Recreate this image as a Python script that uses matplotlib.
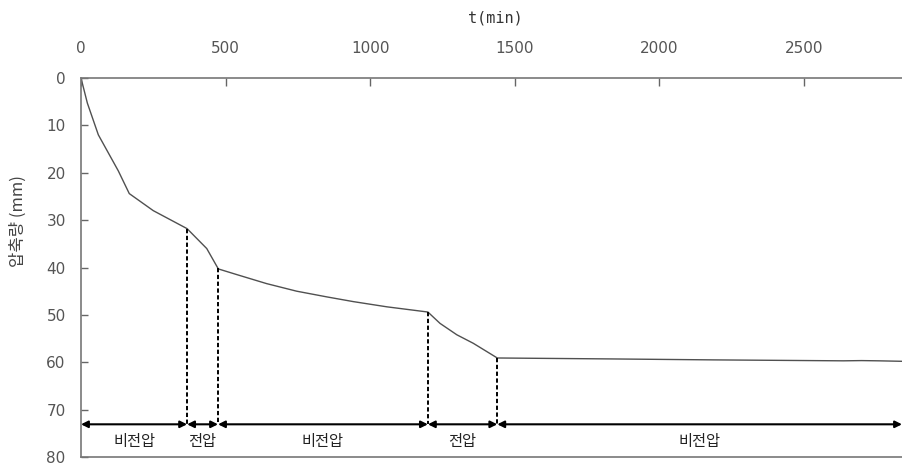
import numpy as np
import matplotlib
matplotlib.use('Agg')
import matplotlib.pyplot as plt

# --- データ ---
t_min = [0, 22, 60, 129, 167, 250, 367, 435, 475, 539, 642, 746, 850, 942, 1058, 1200,
         1242, 1300, 1357, 1440, 1835, 2187, 2637, 2700, 2760, 2840]
settle = [0, 5.3, 12.0, 19.6, 24.4, 28.0, 31.8, 36.0, 40.3, 41.5, 43.4, 45.0, 46.2, 47.2, 48.3, 49.4,
          51.8, 54.2, 56.0, 59.1, 59.3, 59.5, 59.7, 59.65, 59.7, 59.8]

# 区間の境界（分）とラベル
bounds = [0, 367, 474, 1200, 1440, 2840]
seg_labels = ['비전압', '전압', '비전압', '전압', '비전압']
arrow_y = 73.1
label_y = 76.7

fig = plt.figure(figsize=(9.02, 4.65), dpi=100)
ax = fig.add_axes([81/902, 1 - 457/465, 1 - 81/902, (457 - 78)/465])

ax.plot(t_min, settle, color='#505050', lw=1.0)

# 境界の点線（曲線から矢印まで）
for b in bounds[1:-1]:
    yb = np.interp(b, t_min, settle)
    ax.plot([b, b], [yb, arrow_y], color='black', lw=1.4, ls=(0, (2.2, 1.3)))

# 両矢印とラベル
for i, lab in enumerate(seg_labels):
    x0, x1 = bounds[i], bounds[i + 1]
    ax.annotate('', xy=(x1, arrow_y), xytext=(x0, arrow_y),
                arrowprops=dict(arrowstyle='<|-|>', color='black', lw=1.5,
                                mutation_scale=10, shrinkA=0, shrinkB=0))
    ax.text((x0 + x1) / 2, label_y, lab, ha='center', va='center', fontsize=11,
            family=['Noto Sans CJK KR', 'DejaVu Sans'], color='#222222')

ax.set_xlim(0, 2840)
ax.set_ylim(80, 0)
ax.set_xticks([0, 500, 1000, 1500, 2000, 2500])
ax.set_yticks(range(0, 81, 10))
ax.xaxis.tick_top()
ax.tick_params(axis='x', direction='in', length=6, width=1, color='#666666',
               labelsize=11, labelcolor='#555555', pad=16)
ax.tick_params(axis='y', direction='in', length=5, width=1, color='#666666',
               labelsize=11, labelcolor='#555555', pad=11)
ax.yaxis.set_ticks_position('left')
for s in ['top', 'left', 'bottom']:
    ax.spines[s].set_color('#777777')
    ax.spines[s].set_linewidth(1.2)
ax.spines['right'].set_visible(False)

fig.text(495/902, 1 - 18/465, 't(min)', ha='center', va='center', fontsize=11,
         family='DejaVu Sans Mono', color='#333333')
fig.text(18/902, 1 - 221/465, '압축량 (mm)', ha='center', va='center', rotation=90,
         fontsize=12, family=['Noto Sans CJK KR', 'DejaVu Sans'], color='#444444')

fig.savefig('out.png', dpi=100)
